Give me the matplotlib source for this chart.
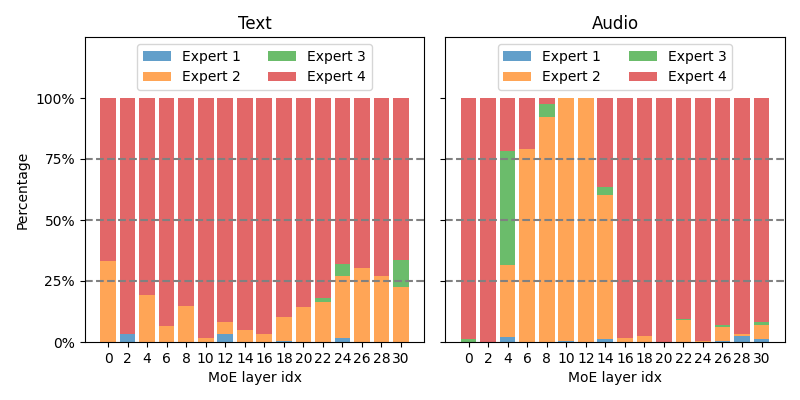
import matplotlib
matplotlib.use("Agg")
import matplotlib.pyplot as plt
import numpy as np
from matplotlib.ticker import FuncFormatter

layers = list(range(0, 32, 2))
experts = ["Expert 1", "Expert 2", "Expert 3", "Expert 4"]
colors = ["tab:blue", "tab:orange", "tab:green", "tab:red"]

# percentages per expert (expert 4 is the remainder)
text_e1 = [0, 3.3, 0, 0, 0, 0, 3.3, 0, 0, 0.4, 0, 0, 1.6, 0, 0, 0]
text_e2 = [33.2, 0, 19.3, 6.6, 14.8, 1.6, 4.9, 4.9, 3.3, 9.8, 14.3, 16.4, 25.4, 30.3, 27.0, 22.5]
text_e3 = [0, 0, 0, 0, 0, 0, 0, 0, 0, 0, 0, 1.6, 5.0, 0, 0, 11.1]

audio_e1 = [0, 0, 2.0, 0, 0, 0.4, 0, 1.2, 0, 0, 0, 0, 0, 0.4, 2.5, 1.2]
audio_e2 = [0, 0, 29.6, 79.1, 92.2, 99.6, 100, 59.0, 1.6, 2.5, 0, 9.0, 0.4, 5.7, 0.8, 5.8]
audio_e3 = [1.2, 0, 46.7, 0, 5.3, 0, 0, 3.3, 0, 0, 0, 0.4, 0, 0.9, 0, 1.2]


def stack(e1, e2, e3):
    e1, e2, e3 = np.array(e1), np.array(e2), np.array(e3)
    e4 = 100 - e1 - e2 - e3
    return [e1, e2, e3, e4]


panels = [("Text", stack(text_e1, text_e2, text_e3)),
          ("Audio", stack(audio_e1, audio_e2, audio_e3))]

fig, axes = plt.subplots(1, 2, figsize=(8, 4), dpi=100, sharey=True)
x = np.arange(len(layers))

for ax, (title, vals) in zip(axes, panels):
    bottom = np.zeros(len(layers))
    for name, v, c in zip(experts, vals, colors):
        ax.bar(x, v, bottom=bottom, color=c, alpha=0.7, label=name, width=0.8)
        bottom += v
    for h in [25, 50, 75]:
        ax.axhline(h, color="gray", linestyle="--", linewidth=1.5)
    ax.set_xticks(x)
    ax.set_xticklabels(layers)
    ax.set_xlabel("MoE layer idx")
    ax.set_title(title)
    ax.set_ylim(0, 125)
    ax.set_yticks([0, 25, 50, 75, 100])
    ax.yaxis.set_major_formatter(FuncFormatter(lambda v, p: f"{int(v)}%"))
    ax.legend(loc="upper center", ncol=2)

axes[0].set_ylabel("Percentage")

plt.subplots_adjust(left=0.106, right=0.981, bottom=0.145, top=0.9075, wspace=0.062)
plt.savefig("out.png")
